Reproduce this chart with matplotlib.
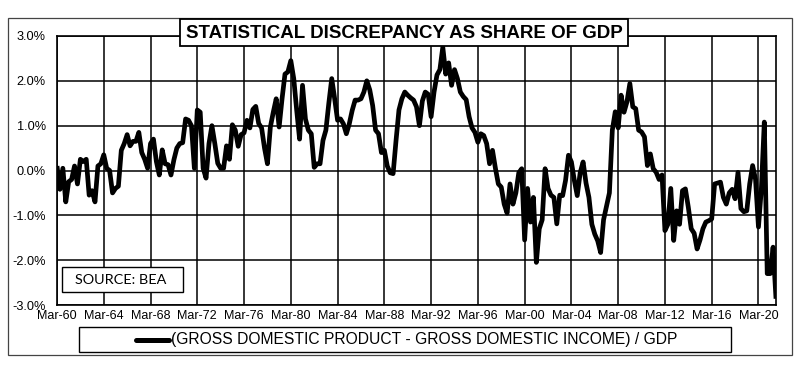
import matplotlib
matplotlib.use('Agg')
import matplotlib.pyplot as plt
from matplotlib.patches import Rectangle
from matplotlib.lines import Line2D
from matplotlib import font_manager
from matplotlib.ticker import FuncFormatter, FixedLocator

# ---------------- data (quarterly, % of GDP) ----------------
q1960s = [0.10, -0.42, 0.05, -0.70, -0.25, -0.20, 0.10, -0.30, 0.25, 0.20,
          0.25, -0.55, -0.45, -0.70, 0.10, 0.15, 0.35, 0.05, 0.00, -0.50,
          -0.40, -0.35, 0.45, 0.60, 0.80, 0.55, 0.65, 0.65, 0.85, 0.40,
          0.25, 0.05, 0.60, 0.70, 0.20, -0.10, 0.46, 0.15, 0.13, -0.10]
q1970s = [0.24, 0.50, 0.60, 0.62, 1.15, 1.12, 1.00, 0.05, 1.35, 1.30,
          0.05, -0.17, 0.60, 1.00, 0.60, 0.16, 0.05, 0.05, 0.55, 0.25,
          1.02, 0.90, 0.54, 0.80, 0.84, 1.12, 0.95, 1.36, 1.43, 1.05,
          0.95, 0.50, 0.15, 0.97, 1.30, 1.60, 0.97, 1.60, 2.15, 2.20]
q1980s = [2.45, 2.05, 1.35, 0.70, 1.90, 1.15, 0.90, 0.82, 0.07, 0.15,
          0.15, 0.67, 0.90, 1.50, 2.05, 1.60, 1.12, 1.15, 1.04, 0.82,
          1.04, 1.34, 1.57, 1.57, 1.60, 1.75, 2.00, 1.80, 1.45, 0.90,
          0.82, 0.40, 0.45, 0.10, -0.05, -0.07, 0.67, 1.35, 1.60, 1.75]
q1990s = [1.68, 1.62, 1.57, 1.42, 1.00, 1.55, 1.75, 1.70, 1.20, 1.75,
          2.13, 2.25, 2.75, 2.15, 2.40, 1.90, 2.25, 2.05, 1.75, 1.65,
          1.58, 1.20, 0.95, 0.85, 0.63, 0.82, 0.78, 0.60, 0.15, 0.45,
          0.05, -0.30, -0.37, -0.75, -0.95, -0.30, -0.75, -0.50, -0.05, 0.04]
q2000s = [-1.55, -0.40, -1.15, -0.60, -2.05, -1.30, -1.10, 0.04, -0.40, -0.55,
          -0.60, -1.19, -0.55, -0.56, -0.22, 0.34, 0.19, -0.22, -0.56, -0.05,
          0.19, -0.28, -0.60, -1.20, -1.42, -1.57, -1.83, -1.10, -0.80, -0.50,
          0.90, 1.31, 0.95, 1.68, 1.30, 1.53, 1.94, 1.42, 1.38, 0.90]
q2010s = [0.86, 0.75, 0.11, 0.37, 0.04, -0.04, -0.20, -0.10, -1.34, -1.20,
          -0.40, -1.56, -0.90, -1.20, -0.45, -0.41, -0.82, -1.30, -1.40, -1.75,
          -1.55, -1.30, -1.15, -1.12, -1.08, -0.30, -0.28, -0.26, -0.60, -0.75,
          -0.50, -0.42, -0.63, -0.04, -0.85, -0.92, -0.90, -0.30, 0.11, -0.20]
q2020s = [-1.26, -0.40, 1.08, -2.30, -2.30, -1.71, -2.86]

tick_labels = ['Mar-60', 'Mar-64', 'Mar-68', 'Mar-72', 'Mar-76', 'Mar-80',
               'Mar-84', 'Mar-88', 'Mar-92', 'Mar-96', 'Mar-00', 'Mar-04',
               'Mar-08', 'Mar-12', 'Mar-16', 'Mar-20']
y_ticks = [-3, -2, -1, 0, 1, 2, 3]

title = 'STATISTICAL DISCREPANCY AS SHARE OF GDP'
series_name = '(GROSS DOMESTIC PRODUCT - GROSS DOMESTIC INCOME) / GDP'
source_text = 'SOURCE: BEA'

values = q1960s + q1970s + q1980s + q1990s + q2000s + q2010s + q2020s
quarters = list(range(len(values)))

# ---------------- fonts ----------------
names = {f.name for f in font_manager.fontManager.ttflist}
NARROW = 'Liberation Sans Narrow' if 'Liberation Sans Narrow' in names else 'Liberation Sans'
narrow_scale = 1.0 if NARROW == 'Liberation Sans Narrow' else 0.82
SRC_FONT = 'Lato'

# ---------------- figure ----------------
W, H = 800, 366
fig = plt.figure(figsize=(W / 100, H / 100), dpi=100)
fig.patch.set_facecolor('white')

def fx(x):
    return x / W

def fy(y):
    return 1 - y / H

# outer frame
fig.patches.append(Rectangle((fx(8), fy(355)), fx(792) - fx(8), fy(18) - fy(355),
                             transform=fig.transFigure, fill=False,
                             edgecolor='#444444', linewidth=0.9, zorder=0))

ax = fig.add_axes([fx(57), fy(305), fx(776) - fx(57), fy(36) - fy(305)])
line, = ax.plot(quarters, values, color='black', linewidth=3.4,
                solid_joinstyle='round', solid_capstyle='butt', zorder=3)

ax.set_xlim(0, len(values) - 1)
ax.set_ylim(-3, 3)
ax.xaxis.set_major_locator(FixedLocator(list(range(0, 16 * len(tick_labels), 16))))
ax.set_xticklabels(tick_labels)
ax.yaxis.set_major_locator(FixedLocator(y_ticks))
ax.yaxis.set_major_formatter(FuncFormatter(lambda v, p: f'{v:.1f}%'))
ax.grid(True, color='black', linewidth=1.1, zorder=1)
ax.set_axisbelow(True)
for s in ax.spines.values():
    s.set_linewidth(1.2)
    s.set_color('black')
ax.tick_params(axis='both', length=0, colors='black')
ax.tick_params(axis='x', pad=3.5)
ax.tick_params(axis='y', pad=8)
for lab in ax.get_xticklabels():
    lab.set_fontfamily(NARROW)
    lab.set_fontsize(11.0 * narrow_scale)
for lab in ax.get_yticklabels():
    lab.set_fontfamily(NARROW)
    lab.set_fontsize(11.2 * narrow_scale)

# title box
fig.patches.append(Rectangle((fx(180), fy(46)), fx(628) - fx(180), fy(19) - fy(46),
                             transform=fig.transFigure, facecolor='white',
                             edgecolor='black', linewidth=1.3, zorder=5))
fig.text(fx(404), fy(33), title, ha='center', va='center', fontfamily=NARROW,
         fontweight='bold', fontsize=16.5 * narrow_scale, zorder=6)

# source box
fig.patches.append(Rectangle((fx(62), fy(292)), fx(183) - fx(62), fy(267) - fy(292),
                             transform=fig.transFigure, facecolor='white',
                             edgecolor='black', linewidth=1.0, zorder=5))
fig.text(fx(121), fy(279.5), source_text, ha='center', va='center',
         fontfamily=SRC_FONT, fontsize=10.4, zorder=6)

# legend box
fig.patches.append(Rectangle((fx(79), fy(352)), fx(731) - fx(79), fy(327) - fy(352),
                             transform=fig.transFigure, facecolor='white',
                             edgecolor='black', linewidth=1.0, zorder=5))
fig.lines.append(Line2D([fx(136), fx(169)], [fy(339.5), fy(339.5)],
                        transform=fig.transFigure, color=line.get_color(),
                        linewidth=3.6, solid_capstyle='round', zorder=6))
fig.text(fx(171), fy(339.5), series_name, ha='left', va='center',
         fontfamily=NARROW, fontsize=13.7 * narrow_scale, zorder=6)

fig.savefig('out.png', dpi=100, facecolor='white')
